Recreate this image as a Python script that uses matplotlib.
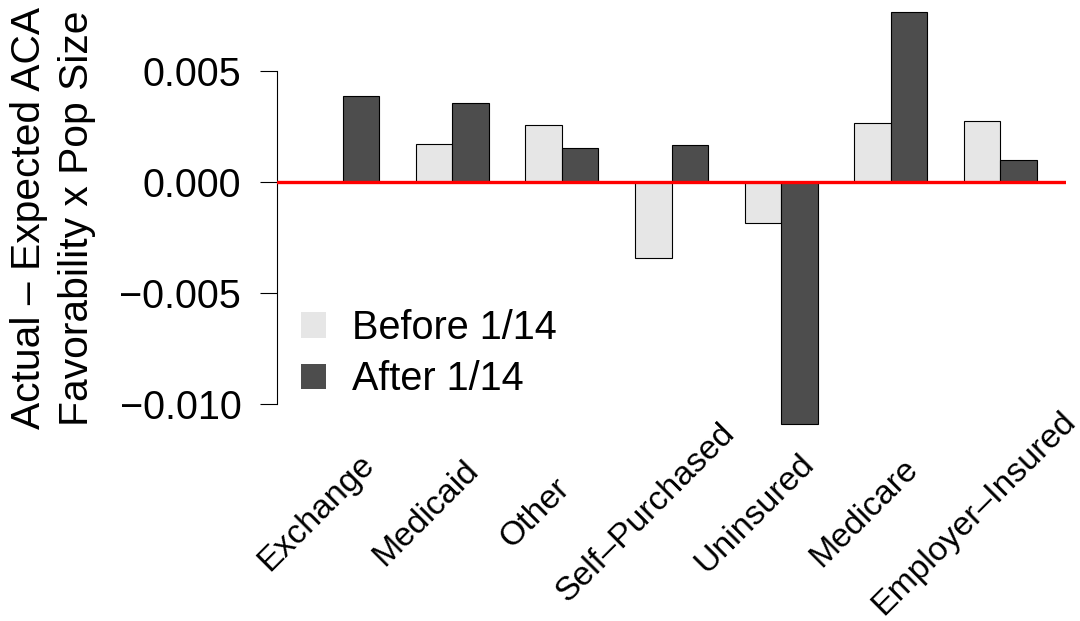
import numpy as np
import matplotlib
matplotlib.use("Agg")
import matplotlib.pyplot as plt
from matplotlib.patches import Patch

plt.rcParams["font.family"] = ["Liberation Sans", "DejaVu Sans"]

# Actual - expected favourability by coverage group
groups = ["Exchange", "Medicaid", "Other", "Self\u2013Purchased", "Uninsured",
          "Medicare", "Employer\u2013Insured"]
before = [np.nan, 0.00170, 0.00255, -0.00342, -0.00184, 0.00263, 0.00273]
after = [0.00387, 0.00352, 0.00152, 0.00165, -0.01090, 0.00762, 0.00099]
yticks = [0.005, 0.000, -0.005, -0.010]

light = "#E6E6E6"
dark = "#4D4D4D"
fs = 28.5

fig = plt.figure(figsize=(10.8, 6.21), dpi=100)
ax = fig.add_axes([277 / 1080, (621 - 440.6) / 621, 789 / 1080, 440.6 / 621])

# barplot(beside=TRUE) layout: 2 bars per group, one-bar gap between groups
centers = np.arange(len(groups)) * 3 + 2
ax.bar(centers - 0.5, before, width=1, color=light, edgecolor="black", linewidth=0.8, zorder=2)
ax.bar(centers + 0.5, after, width=1, color=dark, edgecolor="black", linewidth=0.8, zorder=2)
ax.axhline(0, color="red", lw=2.4, zorder=3)

ax.set_xlim(0.2, 21.8)
ax.set_ylim(-0.01164, 0.00817)

for s in ["top", "right", "bottom"]:
    ax.spines[s].set_visible(False)
ax.spines["left"].set_bounds(min(yticks), max(yticks))
ax.spines["left"].set_linewidth(0.8)
ax.set_xticks([])
ax.set_yticks(yticks)
ax.set_yticklabels([f"{v:.3f}".replace("-", "\u2212") for v in yticks])
ax.tick_params(axis="y", length=12.2, width=0.8, pad=13.5, labelsize=fs)

# rotated group labels under the bars, centred on each label
for c, g in zip(centers, groups):
    ax.text(c - 0.72, -0.01490, g, rotation=45, ha="center", va="center",
            fontsize=24.3, clip_on=False)

fig.text(29 / 1080, 1 - 218 / 621, "Actual \u2013 Expected ACA", rotation=90,
         ha="center", va="center", fontsize=29.3)
fig.text(77 / 1080, 1 - 218 / 621, "Favorability x Pop Size", rotation=90,
         ha="center", va="center", fontsize=29.3)

handles = [Patch(facecolor=light, edgecolor="none"), Patch(facecolor=dark, edgecolor="none")]
ax.legend(handles, ["Before 1/14", "After 1/14"], loc="upper left",
          bbox_to_anchor=(301 / 1080, 1 - 309 / 621), bbox_transform=fig.transFigure,
          frameon=False, borderpad=0, borderaxespad=0, fontsize=fs,
          handlelength=0.63, handleheight=0.63, handletextpad=0.66, labelspacing=0.34)

fig.savefig("out.png", dpi=100)
